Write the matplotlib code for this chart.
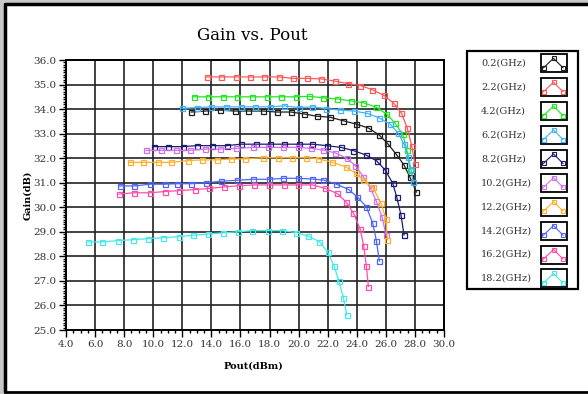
import matplotlib
matplotlib.use("Agg")
import matplotlib.pyplot as plt
from matplotlib.patches import Rectangle
from matplotlib.ticker import MultipleLocator, FormatStrFormatter

# data (Pout in dBm, gain in dB)
freq_labels = ["0.2(GHz)", "2.2(GHz)", "4.2(GHz)", "6.2(GHz)", "8.2(GHz)",
               "10.2(GHz)", "12.2(GHz)", "14.2(GHz)", "16.2(GHz)", "18.2(GHz)"]
colors = ["#1e1e1e", "#ff5a5a", "#22e622", "#40b4ff", "#1c1c6e",
          "#d070f0", "#ffb030", "#5064ff", "#ff4fa8", "#48e8e8"]

pout_0p2 = [12.61, 13.57, 14.56, 15.59, 16.55, 17.58, 18.5, 19.46, 20.4, 21.25,
            22.16, 23.04, 23.95, 24.8, 25.53, 26.1, 26.7, 27.25, 27.66, 28.1]
gain_0p2 = [33.88, 33.92, 33.96, 33.92, 33.92, 33.92, 33.88, 33.88, 33.8, 33.71,
            33.67, 33.53, 33.39, 33.23, 32.95, 32.61, 32.17, 31.72, 31.22, 30.62]

pout_2p2 = [13.69, 14.67, 15.68, 16.67, 17.65, 18.64, 19.64, 20.58, 21.55, 22.49,
            23.38, 24.25, 25.07, 25.86, 26.54, 27.07, 27.46, 27.78, 28.0]
gain_2p2 = [35.31, 35.31, 35.31, 35.31, 35.31, 35.31, 35.25, 35.25, 35.23, 35.14,
            35.04, 34.96, 34.79, 34.56, 34.24, 33.84, 33.25, 32.5, 31.76]

pout_4p2 = [12.77, 13.76, 14.79, 15.79, 16.82, 17.81, 18.8, 19.81, 20.74, 21.7,
            22.67, 23.57, 24.45, 25.33, 26.03, 26.63, 27.16, 27.44, 27.66]
gain_4p2 = [34.5, 34.5, 34.5, 34.5, 34.5, 34.5, 34.5, 34.5, 34.52, 34.46,
            34.41, 34.34, 34.26, 34.08, 33.81, 33.43, 32.97, 32.35, 31.52]

pout_6p2 = [11.97, 13.0, 13.99, 15.02, 16.03, 17.01, 18.0, 19.0, 20.01, 20.95, 21.91,
            22.87, 23.79, 24.69, 25.51, 26.29, 26.86, 27.25, 27.55, 27.72, 27.89]
gain_6p2 = [34.03, 34.06, 34.09, 34.09, 34.09, 34.09, 34.09, 34.13, 34.06, 34.09, 34.02,
            33.96, 33.92, 33.83, 33.65, 33.39, 33.01, 32.57, 32.06, 31.56, 31.02]

pout_8p2 = [10.02, 11.05, 12.04, 13.0, 14.03, 15.07, 16.03, 17.06, 18.04, 19.02, 20.03,
            20.95, 21.94, 22.9, 23.77, 24.62, 25.37, 25.95, 26.47, 26.75, 27.04, 27.25]
gain_8p2 = [32.47, 32.47, 32.47, 32.51, 32.51, 32.51, 32.57, 32.57, 32.57, 32.57, 32.57,
            32.57, 32.51, 32.44, 32.31, 32.13, 31.89, 31.52, 30.98, 30.41, 29.69, 28.87]

pout_10p2 = [9.52, 10.5, 11.56, 12.5, 13.57, 14.6, 15.66, 16.85, 17.92, 18.96, 19.95,
             20.86, 21.7, 22.5, 23.3, 23.9, 24.45, 24.95, 25.35, 25.74, 26.01]
gain_10p2 = [32.32, 32.32, 32.32, 32.32, 32.37, 32.37, 32.40, 32.44, 32.44, 32.44, 32.44,
             32.40, 32.33, 32.22, 32.0, 31.7, 31.25, 30.77, 30.24, 29.6, 28.87]

pout_12p2 = [8.37, 9.33, 10.32, 11.22, 12.36, 13.35, 14.38, 15.38, 16.28, 17.54, 18.57,
             19.55, 20.5, 21.32, 22.32, 23.24, 23.93, 24.45, 25.1, 25.67, 26.01, 26.1]
gain_12p2 = [31.83, 31.83, 31.83, 31.83, 31.90, 31.93, 31.93, 31.97, 31.97, 32.02, 32.02,
             32.02, 32.02, 31.98, 31.83, 31.65, 31.38, 31.11, 30.81, 30.16, 29.51, 28.67]

pout_14p2 = [7.68, 8.71, 9.77, 10.78, 11.63, 12.61, 13.64, 14.67, 15.75, 16.89, 17.99,
             18.96, 19.95, 20.95, 21.7, 22.56, 23.42, 24.04, 24.66, 25.1, 25.35, 25.55]
gain_14p2 = [30.87, 30.87, 30.94, 30.94, 30.96, 30.96, 31.0, 31.06, 31.10, 31.14, 31.14,
             31.18, 31.18, 31.15, 31.11, 30.95, 30.73, 30.42, 30.02, 29.35, 28.63, 27.81]

pout_16p2 = [7.66, 8.67, 9.75, 10.78, 11.79, 12.84, 13.87, 14.88, 15.93, 16.94, 17.95,
             18.98, 19.95, 20.95, 21.82, 22.63, 23.26, 23.77, 24.23, 24.48, 24.66, 24.80]
gain_16p2 = [30.54, 30.59, 30.59, 30.64, 30.68, 30.72, 30.77, 30.83, 30.88, 30.91, 30.91,
             30.91, 30.91, 30.91, 30.77, 30.57, 30.22, 29.76, 29.12, 28.42, 27.61, 26.77]

pout_18p2 = [5.5, 6.5, 7.55, 8.6, 9.64, 10.64, 11.74, 12.73, 13.8, 14.83, 15.86,
             16.82, 17.86, 18.89, 19.85, 20.67, 21.43, 22.0, 22.44, 22.76, 23.08, 23.31]
gain_18p2 = [28.59, 28.59, 28.64, 28.68, 28.72, 28.76, 28.80, 28.86, 28.91, 28.96, 29.0,
             29.05, 29.05, 29.05, 28.97, 28.82, 28.60, 28.17, 27.61, 27.0, 26.32, 25.61]

x_ticks = [4.0, 6.0, 8.0, 10.0, 12.0, 14.0, 16.0, 18.0, 20.0, 22.0, 24.0, 26.0, 28.0, 30.0]
y_ticks = [25.0, 26.0, 27.0, 28.0, 29.0, 30.0, 31.0, 32.0, 33.0, 34.0, 35.0, 36.0]

series = [(pout_0p2, gain_0p2), (pout_2p2, gain_2p2), (pout_4p2, gain_4p2),
          (pout_6p2, gain_6p2), (pout_8p2, gain_8p2), (pout_10p2, gain_10p2),
          (pout_12p2, gain_12p2), (pout_14p2, gain_14p2), (pout_16p2, gain_16p2),
          (pout_18p2, gain_18p2)]

W, H = 588, 394
fig = plt.figure(figsize=(W / 100, H / 100), dpi=100)
fig.patch.set_facecolor("white")

# main plot area in pixel terms: x 66..444, y 60..330
ax = fig.add_axes([66 / W, 1 - 330 / H, (444 - 66) / W, (330 - 60) / H])
for (px, g), c in zip(series, colors):
    ax.plot(px, g, color=c, lw=0.9, marker="s", ms=3.6, mfc="none",
            mec=c, mew=0.9, zorder=3)

ax.set_xlim(x_ticks[0], x_ticks[-1])
ax.set_ylim(y_ticks[0], y_ticks[-1])
ax.set_xticks(x_ticks)
ax.set_yticks(y_ticks)
ax.xaxis.set_minor_locator(MultipleLocator(0.5))
ax.yaxis.set_minor_locator(MultipleLocator(0.1))
ax.xaxis.set_major_formatter(FormatStrFormatter("%.1f"))
ax.yaxis.set_major_formatter(FormatStrFormatter("%.1f"))
ax.grid(True, which="major", color="#222222", lw=1.2, zorder=1)
ax.tick_params(which="major", direction="out", length=5, width=1, pad=2,
               labelsize=7.5, labelfontfamily="DejaVu Serif", labelcolor="#333333")
ax.tick_params(which="minor", direction="out", length=2.5, width=1)
for sp in ax.spines.values():
    sp.set_linewidth(1.4)

fig.text(252 / W, 1 - 36 / H, "Gain vs. Pout", ha="center", va="center",
         family="DejaVu Serif", fontsize=12)
fig.text(253 / W, 1 - 366 / H, "Pout(dBm)", ha="center", va="center",
         family="DejaVu Serif", fontsize=7, fontweight="bold")
fig.text(28 / W, 1 - 195 / H, "Gain(dB)", ha="center", va="center",
         family="DejaVu Serif", fontsize=7, fontweight="bold", rotation=90)

# overlay in pixel coordinates for the frame and the legend
ov = fig.add_axes([0, 0, 1, 1], zorder=5)
ov.set_xlim(0, W)
ov.set_ylim(H, 0)
ov.axis("off")
ov.add_patch(Rectangle((0, 0), 5, H, color="#c8c8c8", lw=0))
ov.add_patch(Rectangle((0, 0), W, 3, color="#c8c8c8", lw=0))
ov.plot([5, 5, W], [H - 2, 4, 4], color="black", lw=2.5, solid_capstyle="butt")
ov.plot([5, W], [H - 2, H - 2], color="black", lw=2.0)

ov.add_patch(Rectangle((467, 51), 111, 238, fill=False, ec="black", lw=1.6))
row0, step = 63.3, 23.9
for i, (lab, c) in enumerate(zip(freq_labels, colors)):
    yc = row0 + i * step
    ov.text(481, yc, lab, ha="left", va="center", family="DejaVu Serif",
            fontsize=7, color="#333333")
    bx, by, bw, bh = 541, yc - 9, 25.5, 18
    ov.add_patch(Rectangle((bx, by), bw, bh, fill=False, ec="black", lw=1.3))
    ix = [bx + 2.5, bx + 12.5, bx + 22]
    iy = [by + 13.5, by + 4, by + 13.5]
    ov.plot(ix, iy, color=c, lw=0.8)
    ov.plot(ix, iy, ls="none", marker="s", ms=3.0, mfc="none", mec=c, mew=0.8)

fig.savefig("out.png", dpi=100)
